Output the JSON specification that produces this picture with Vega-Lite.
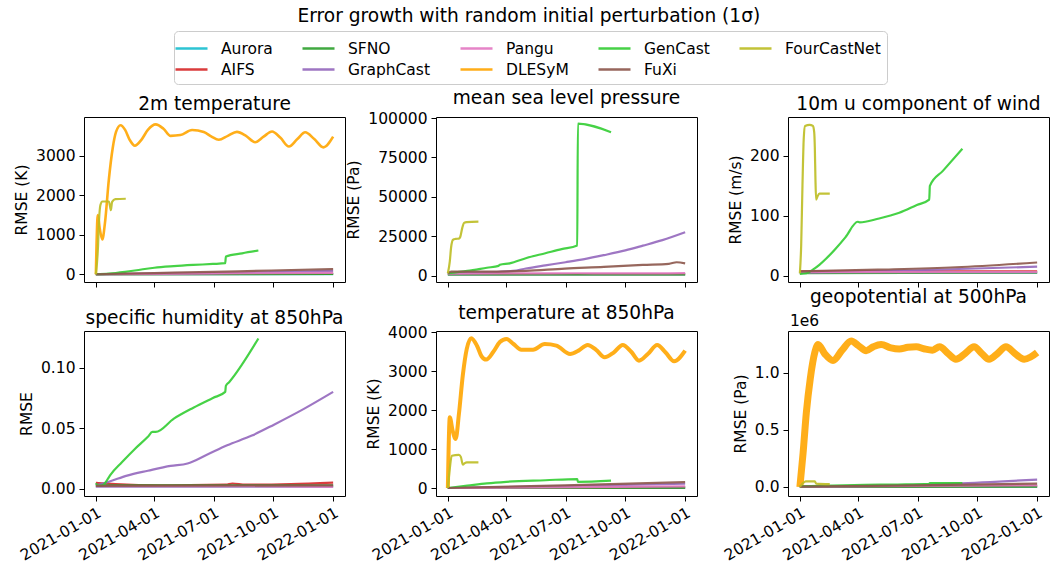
{
"$schema": "https://vega.github.io/schema/vega-lite/v6.json",
"title": {"text": "Error growth with random initial perturbation (1σ)", "anchor": "middle", "offset": 5, "dx": -4},
"padding": {"left": 14, "top": 6, "right": 2, "bottom": 5},
"columns": 3,
"spacing": {"row": 49, "column": 91},
"bounds": "flush",
"resolve": {"scale": {"color": "shared"}, "legend": {"color": "shared"}},
"datasets": {
"t2m": [
{"model":"Aurora","date":"2021-01-01","rmse":0},{"model":"Aurora","date":"2022-01-01","rmse":5},
{"model":"AIFS","date":"2021-01-01","rmse":0},{"model":"AIFS","date":"2022-01-01","rmse":10},
{"model":"SFNO","date":"2021-01-01","rmse":0},{"model":"SFNO","date":"2022-01-01","rmse":8},
{"model":"GraphCast","date":"2021-01-01","rmse":0},{"model":"GraphCast","date":"2021-04-01","rmse":15},{"model":"GraphCast","date":"2021-06-30","rmse":30},{"model":"GraphCast","date":"2021-09-28","rmse":55},{"model":"GraphCast","date":"2022-01-01","rmse":85},
{"model":"Pangu","date":"2021-01-01","rmse":0},{"model":"Pangu","date":"2021-06-30","rmse":20},{"model":"Pangu","date":"2022-01-01","rmse":35},
{"model":"DLESyM","date":"2021-01-01","rmse":0},{"model":"DLESyM","date":"2021-01-04","rmse":1500},{"model":"DLESyM","date":"2021-01-07","rmse":1150},{"model":"DLESyM","date":"2021-01-11","rmse":880},{"model":"DLESyM","date":"2021-01-15","rmse":1300},{"model":"DLESyM","date":"2021-01-21","rmse":2400},{"model":"DLESyM","date":"2021-01-27","rmse":3200},{"model":"DLESyM","date":"2021-02-01","rmse":3600},{"model":"DLESyM","date":"2021-02-08","rmse":3770},{"model":"DLESyM","date":"2021-02-15","rmse":3650},{"model":"DLESyM","date":"2021-02-22","rmse":3400},{"model":"DLESyM","date":"2021-03-02","rmse":3250},{"model":"DLESyM","date":"2021-03-12","rmse":3400},{"model":"DLESyM","date":"2021-03-22","rmse":3650},{"model":"DLESyM","date":"2021-04-03","rmse":3790},{"model":"DLESyM","date":"2021-04-15","rmse":3680},{"model":"DLESyM","date":"2021-04-26","rmse":3500},{"model":"DLESyM","date":"2021-05-11","rmse":3520},{"model":"DLESyM","date":"2021-05-29","rmse":3650},{"model":"DLESyM","date":"2021-06-16","rmse":3600},{"model":"DLESyM","date":"2021-06-28","rmse":3480},{"model":"DLESyM","date":"2021-07-09","rmse":3400},{"model":"DLESyM","date":"2021-07-23","rmse":3500},{"model":"DLESyM","date":"2021-08-06","rmse":3600},{"model":"DLESyM","date":"2021-08-20","rmse":3500},{"model":"DLESyM","date":"2021-09-03","rmse":3340},{"model":"DLESyM","date":"2021-09-16","rmse":3480},{"model":"DLESyM","date":"2021-09-29","rmse":3610},{"model":"DLESyM","date":"2021-10-12","rmse":3450},{"model":"DLESyM","date":"2021-10-25","rmse":3230},{"model":"DLESyM","date":"2021-11-07","rmse":3420},{"model":"DLESyM","date":"2021-11-19","rmse":3590},{"model":"DLESyM","date":"2021-12-03","rmse":3420},{"model":"DLESyM","date":"2021-12-17","rmse":3210},{"model":"DLESyM","date":"2022-01-01","rmse":3480},
{"model":"GenCast","date":"2021-01-01","rmse":0},{"model":"GenCast","date":"2021-01-21","rmse":15},{"model":"GenCast","date":"2021-02-15","rmse":60},{"model":"GenCast","date":"2021-03-12","rmse":120},{"model":"GenCast","date":"2021-04-01","rmse":165},{"model":"GenCast","date":"2021-05-01","rmse":205},{"model":"GenCast","date":"2021-05-31","rmse":235},{"model":"GenCast","date":"2021-06-30","rmse":260},{"model":"GenCast","date":"2021-07-19","rmse":280},{"model":"GenCast","date":"2021-07-20","rmse":450},{"model":"GenCast","date":"2021-08-14","rmse":530},{"model":"GenCast","date":"2021-09-08","rmse":600},
{"model":"FuXi","date":"2021-01-01","rmse":0},{"model":"FuXi","date":"2021-04-01","rmse":30},{"model":"FuXi","date":"2021-06-30","rmse":60},{"model":"FuXi","date":"2021-09-28","rmse":95},{"model":"FuXi","date":"2022-01-01","rmse":130},
{"model":"FourCastNet","date":"2021-01-01","rmse":0},{"model":"FourCastNet","date":"2021-01-04","rmse":600},{"model":"FourCastNet","date":"2021-01-06","rmse":1400},{"model":"FourCastNet","date":"2021-01-08","rmse":1750},{"model":"FourCastNet","date":"2021-01-11","rmse":1840},{"model":"FourCastNet","date":"2021-01-21","rmse":1840},{"model":"FourCastNet","date":"2021-01-23","rmse":1700},{"model":"FourCastNet","date":"2021-01-24","rmse":1620},{"model":"FourCastNet","date":"2021-01-26","rmse":1830},{"model":"FourCastNet","date":"2021-01-31","rmse":1900},{"model":"FourCastNet","date":"2021-02-16","rmse":1910}
],
"msl": [
{"model":"Aurora","date":"2021-01-01","rmse":800},{"model":"Aurora","date":"2022-01-01","rmse":800},
{"model":"AIFS","date":"2021-01-01","rmse":900},{"model":"AIFS","date":"2021-06-30","rmse":1000},{"model":"AIFS","date":"2022-01-01","rmse":1000},
{"model":"SFNO","date":"2021-01-01","rmse":700},{"model":"SFNO","date":"2022-01-01","rmse":700},
{"model":"GraphCast","date":"2021-01-01","rmse":1500},{"model":"GraphCast","date":"2021-03-02","rmse":2000},{"model":"GraphCast","date":"2021-04-11","rmse":3000},{"model":"GraphCast","date":"2021-05-01","rmse":4500},{"model":"GraphCast","date":"2021-05-31","rmse":6500},{"model":"GraphCast","date":"2021-07-01","rmse":8500},{"model":"GraphCast","date":"2021-07-30","rmse":10500},{"model":"GraphCast","date":"2021-08-29","rmse":13000},{"model":"GraphCast","date":"2021-10-01","rmse":16000},{"model":"GraphCast","date":"2021-10-28","rmse":19000},{"model":"GraphCast","date":"2021-11-27","rmse":22500},{"model":"GraphCast","date":"2022-01-01","rmse":27500},
{"model":"Pangu","date":"2021-01-01","rmse":1200},{"model":"Pangu","date":"2021-04-11","rmse":1400},{"model":"Pangu","date":"2021-07-20","rmse":1500},{"model":"Pangu","date":"2021-10-28","rmse":1400},{"model":"Pangu","date":"2022-01-01","rmse":1600},
{"model":"GenCast","date":"2021-01-01","rmse":1500},{"model":"GenCast","date":"2021-01-31","rmse":3000},{"model":"GenCast","date":"2021-03-02","rmse":5000},{"model":"GenCast","date":"2021-03-20","rmse":6200},{"model":"GenCast","date":"2021-03-22","rmse":6900},{"model":"GenCast","date":"2021-04-06","rmse":7800},{"model":"GenCast","date":"2021-05-02","rmse":11200},{"model":"GenCast","date":"2021-05-31","rmse":14200},{"model":"GenCast","date":"2021-06-25","rmse":16800},{"model":"GenCast","date":"2021-07-19","rmse":19100},{"model":"GenCast","date":"2021-07-20","rmse":96500},{"model":"GenCast","date":"2021-09-09","rmse":91000},
{"model":"FuXi","date":"2021-01-01","rmse":1500},{"model":"FuXi","date":"2021-01-06","rmse":2500},{"model":"FuXi","date":"2021-03-02","rmse":2500},{"model":"FuXi","date":"2021-05-01","rmse":3000},{"model":"FuXi","date":"2021-06-30","rmse":4500},{"model":"FuXi","date":"2021-08-29","rmse":5500},{"model":"FuXi","date":"2021-10-28","rmse":6800},{"model":"FuXi","date":"2021-12-07","rmse":7500},{"model":"FuXi","date":"2021-12-19","rmse":8500},{"model":"FuXi","date":"2022-01-01","rmse":7800},
{"model":"FourCastNet","date":"2021-01-01","rmse":1500},{"model":"FourCastNet","date":"2021-01-04","rmse":9000},{"model":"FourCastNet","date":"2021-01-06","rmse":18000},{"model":"FourCastNet","date":"2021-01-09","rmse":22800},{"model":"FourCastNet","date":"2021-01-13","rmse":23300},{"model":"FourCastNet","date":"2021-01-18","rmse":23500},{"model":"FourCastNet","date":"2021-01-20","rmse":24500},{"model":"FourCastNet","date":"2021-01-23","rmse":30000},{"model":"FourCastNet","date":"2021-01-26","rmse":33500},{"model":"FourCastNet","date":"2021-01-30","rmse":34000},{"model":"FourCastNet","date":"2021-02-17","rmse":34300}
],
"u10": [
{"model":"Aurora","date":"2021-01-01","rmse":5},{"model":"Aurora","date":"2022-01-01","rmse":5},
{"model":"AIFS","date":"2021-01-01","rmse":7},{"model":"AIFS","date":"2022-01-01","rmse":7},
{"model":"SFNO","date":"2021-01-01","rmse":4},{"model":"SFNO","date":"2022-01-01","rmse":5},
{"model":"GraphCast","date":"2021-01-01","rmse":5},{"model":"GraphCast","date":"2021-06-30","rmse":9},{"model":"GraphCast","date":"2022-01-01","rmse":15},
{"model":"Pangu","date":"2021-01-01","rmse":6},{"model":"Pangu","date":"2022-01-01","rmse":6},
{"model":"GenCast","date":"2021-01-01","rmse":3},{"model":"GenCast","date":"2021-01-11","rmse":4},{"model":"GenCast","date":"2021-01-21","rmse":10},{"model":"GenCast","date":"2021-01-31","rmse":18},{"model":"GenCast","date":"2021-02-11","rmse":29},{"model":"GenCast","date":"2021-02-25","rmse":45},{"model":"GenCast","date":"2021-03-12","rmse":64},{"model":"GenCast","date":"2021-03-31","rmse":90},{"model":"GenCast","date":"2021-04-03","rmse":89},{"model":"GenCast","date":"2021-05-01","rmse":95},{"model":"GenCast","date":"2021-06-03","rmse":105},{"model":"GenCast","date":"2021-06-30","rmse":118},{"model":"GenCast","date":"2021-07-19","rmse":127},{"model":"GenCast","date":"2021-07-20","rmse":150},{"model":"GenCast","date":"2021-08-09","rmse":175},{"model":"GenCast","date":"2021-09-08","rmse":212},
{"model":"FuXi","date":"2021-01-01","rmse":7},{"model":"FuXi","date":"2021-05-01","rmse":10},{"model":"FuXi","date":"2021-08-29","rmse":14},{"model":"FuXi","date":"2022-01-01","rmse":22},
{"model":"FourCastNet","date":"2021-01-01","rmse":4},{"model":"FourCastNet","date":"2021-01-03","rmse":50},{"model":"FourCastNet","date":"2021-01-05","rmse":150},{"model":"FourCastNet","date":"2021-01-07","rmse":230},{"model":"FourCastNet","date":"2021-01-09","rmse":250},{"model":"FourCastNet","date":"2021-01-16","rmse":252},{"model":"FourCastNet","date":"2021-01-21","rmse":250},{"model":"FourCastNet","date":"2021-01-23","rmse":240},{"model":"FourCastNet","date":"2021-01-24","rmse":215},{"model":"FourCastNet","date":"2021-01-25","rmse":160},{"model":"FourCastNet","date":"2021-01-26","rmse":127},{"model":"FourCastNet","date":"2021-01-28","rmse":132},{"model":"FourCastNet","date":"2021-01-31","rmse":137},{"model":"FourCastNet","date":"2021-02-16","rmse":137}
],
"q850": [
{"model":"Aurora","date":"2021-01-01","rmse":0.002},{"model":"Aurora","date":"2022-01-01","rmse":0.002},
{"model":"AIFS","date":"2021-01-01","rmse":0.005},{"model":"AIFS","date":"2021-01-31","rmse":0.004},{"model":"AIFS","date":"2021-04-11","rmse":0.003},{"model":"AIFS","date":"2021-07-20","rmse":0.0035},{"model":"AIFS","date":"2021-07-30","rmse":0.0045},{"model":"AIFS","date":"2021-08-19","rmse":0.0035},{"model":"AIFS","date":"2021-10-28","rmse":0.004},{"model":"AIFS","date":"2022-01-01","rmse":0.0052},
{"model":"SFNO","date":"2021-01-01","rmse":0.003},{"model":"SFNO","date":"2022-01-01","rmse":0.003},
{"model":"GraphCast","date":"2021-01-01","rmse":0.003},{"model":"GraphCast","date":"2021-01-21","rmse":0.006},{"model":"GraphCast","date":"2021-02-18","rmse":0.011},{"model":"GraphCast","date":"2021-03-22","rmse":0.015},{"model":"GraphCast","date":"2021-04-26","rmse":0.019},{"model":"GraphCast","date":"2021-05-22","rmse":0.021},{"model":"GraphCast","date":"2021-06-20","rmse":0.028},{"model":"GraphCast","date":"2021-07-22","rmse":0.036},{"model":"GraphCast","date":"2021-08-29","rmse":0.044},{"model":"GraphCast","date":"2021-10-02","rmse":0.053},{"model":"GraphCast","date":"2021-11-17","rmse":0.066},{"model":"GraphCast","date":"2022-01-01","rmse":0.080},
{"model":"Pangu","date":"2021-01-01","rmse":0.002},{"model":"Pangu","date":"2022-01-01","rmse":0.0018},
{"model":"GenCast","date":"2021-01-01","rmse":0.0047},{"model":"GenCast","date":"2021-01-04","rmse":0.003},{"model":"GenCast","date":"2021-01-09","rmse":0.0028},{"model":"GenCast","date":"2021-01-14","rmse":0.004},{"model":"GenCast","date":"2021-01-19","rmse":0.008},{"model":"GenCast","date":"2021-01-24","rmse":0.012},{"model":"GenCast","date":"2021-02-10","rmse":0.022},{"model":"GenCast","date":"2021-03-02","rmse":0.033},{"model":"GenCast","date":"2021-03-22","rmse":0.043},{"model":"GenCast","date":"2021-03-29","rmse":0.047},{"model":"GenCast","date":"2021-04-03","rmse":0.047},{"model":"GenCast","date":"2021-05-01","rmse":0.058},{"model":"GenCast","date":"2021-05-31","rmse":0.067},{"model":"GenCast","date":"2021-06-30","rmse":0.075},{"model":"GenCast","date":"2021-07-19","rmse":0.080},{"model":"GenCast","date":"2021-07-20","rmse":0.085},{"model":"GenCast","date":"2021-07-25","rmse":0.088},{"model":"GenCast","date":"2021-09-08","rmse":0.124},
{"model":"FuXi","date":"2021-01-01","rmse":0.0025},{"model":"FuXi","date":"2022-01-01","rmse":0.003}
],
"t850": [
{"model":"Aurora","date":"2021-01-01","rmse":0},{"model":"Aurora","date":"2022-01-01","rmse":5},
{"model":"AIFS","date":"2021-01-01","rmse":0},{"model":"AIFS","date":"2022-01-01","rmse":15},
{"model":"SFNO","date":"2021-01-01","rmse":0},{"model":"SFNO","date":"2022-01-01","rmse":8},
{"model":"GraphCast","date":"2021-01-01","rmse":0},{"model":"GraphCast","date":"2021-06-30","rmse":50},{"model":"GraphCast","date":"2022-01-01","rmse":110},
{"model":"Pangu","date":"2021-01-01","rmse":0},{"model":"Pangu","date":"2022-01-01","rmse":40},
{"model":"DLESyM","date":"2021-01-01","rmse":0},{"model":"DLESyM","date":"2021-01-04","rmse":1820},{"model":"DLESyM","date":"2021-01-08","rmse":1500},{"model":"DLESyM","date":"2021-01-13","rmse":1260},{"model":"DLESyM","date":"2021-01-18","rmse":1900},{"model":"DLESyM","date":"2021-01-24","rmse":2900},{"model":"DLESyM","date":"2021-01-30","rmse":3570},{"model":"DLESyM","date":"2021-02-06","rmse":3850},{"model":"DLESyM","date":"2021-02-15","rmse":3650},{"model":"DLESyM","date":"2021-02-22","rmse":3380},{"model":"DLESyM","date":"2021-03-01","rmse":3300},{"model":"DLESyM","date":"2021-03-12","rmse":3500},{"model":"DLESyM","date":"2021-03-22","rmse":3750},{"model":"DLESyM","date":"2021-04-01","rmse":3830},{"model":"DLESyM","date":"2021-04-12","rmse":3700},{"model":"DLESyM","date":"2021-04-24","rmse":3555},{"model":"DLESyM","date":"2021-05-12","rmse":3555},{"model":"DLESyM","date":"2021-05-30","rmse":3700},{"model":"DLESyM","date":"2021-06-17","rmse":3660},{"model":"DLESyM","date":"2021-07-08","rmse":3445},{"model":"DLESyM","date":"2021-07-21","rmse":3530},{"model":"DLESyM","date":"2021-08-04","rmse":3676},{"model":"DLESyM","date":"2021-08-17","rmse":3550},{"model":"DLESyM","date":"2021-08-30","rmse":3360},{"model":"DLESyM","date":"2021-09-13","rmse":3480},{"model":"DLESyM","date":"2021-09-27","rmse":3676},{"model":"DLESyM","date":"2021-10-10","rmse":3500},{"model":"DLESyM","date":"2021-10-22","rmse":3272},{"model":"DLESyM","date":"2021-11-05","rmse":3450},{"model":"DLESyM","date":"2021-11-19","rmse":3676},{"model":"DLESyM","date":"2021-12-02","rmse":3480},{"model":"DLESyM","date":"2021-12-15","rmse":3257},{"model":"DLESyM","date":"2022-01-01","rmse":3530},
{"model":"GenCast","date":"2021-01-01","rmse":0},{"model":"GenCast","date":"2021-01-31","rmse":60},{"model":"GenCast","date":"2021-03-02","rmse":120},{"model":"GenCast","date":"2021-04-01","rmse":160},{"model":"GenCast","date":"2021-05-31","rmse":200},{"model":"GenCast","date":"2021-07-19","rmse":230},{"model":"GenCast","date":"2021-07-20","rmse":160},{"model":"GenCast","date":"2021-09-09","rmse":190},
{"model":"FuXi","date":"2021-01-01","rmse":0},{"model":"FuXi","date":"2021-06-30","rmse":70},{"model":"FuXi","date":"2022-01-01","rmse":150},
{"model":"FourCastNet","date":"2021-01-01","rmse":0},{"model":"FourCastNet","date":"2021-01-04","rmse":500},{"model":"FourCastNet","date":"2021-01-07","rmse":830},{"model":"FourCastNet","date":"2021-01-18","rmse":850},{"model":"FourCastNet","date":"2021-01-21","rmse":800},{"model":"FourCastNet","date":"2021-01-24","rmse":600},{"model":"FourCastNet","date":"2021-01-27","rmse":640},{"model":"FourCastNet","date":"2021-01-30","rmse":660},{"model":"FourCastNet","date":"2021-02-17","rmse":660}
],
"z500": [
{"model":"Aurora","date":"2021-01-01","rmse":2000},{"model":"Aurora","date":"2022-01-01","rmse":3000},
{"model":"AIFS","date":"2021-01-01","rmse":3000},{"model":"AIFS","date":"2022-01-01","rmse":8000},
{"model":"SFNO","date":"2021-01-01","rmse":2000},{"model":"SFNO","date":"2022-01-01","rmse":4000},
{"model":"GraphCast","date":"2021-01-01","rmse":2000},{"model":"GraphCast","date":"2021-05-01","rmse":10000},{"model":"GraphCast","date":"2021-08-29","rmse":30000},{"model":"GraphCast","date":"2022-01-01","rmse":65000},
{"model":"Pangu","date":"2021-01-01","rmse":5000},{"model":"Pangu","date":"2022-01-01","rmse":15000},
{"model":"DLESyM","date":"2021-01-01","rmse":0},{"model":"DLESyM","date":"2021-01-06","rmse":300000},{"model":"DLESyM","date":"2021-01-11","rmse":655000},{"model":"DLESyM","date":"2021-01-17","rmse":950000},{"model":"DLESyM","date":"2021-01-24","rmse":1180000},{"model":"DLESyM","date":"2021-01-29","rmse":1250000},{"model":"DLESyM","date":"2021-02-08","rmse":1170000},{"model":"DLESyM","date":"2021-02-21","rmse":1110000},{"model":"DLESyM","date":"2021-03-07","rmse":1200000},{"model":"DLESyM","date":"2021-03-21","rmse":1280000},{"model":"DLESyM","date":"2021-04-01","rmse":1240000},{"model":"DLESyM","date":"2021-04-13","rmse":1195000},{"model":"DLESyM","date":"2021-04-24","rmse":1230000},{"model":"DLESyM","date":"2021-05-06","rmse":1250000},{"model":"DLESyM","date":"2021-05-21","rmse":1220000},{"model":"DLESyM","date":"2021-06-03","rmse":1210000},{"model":"DLESyM","date":"2021-06-16","rmse":1225000},{"model":"DLESyM","date":"2021-06-29","rmse":1230000},{"model":"DLESyM","date":"2021-07-12","rmse":1210000},{"model":"DLESyM","date":"2021-07-24","rmse":1200000},{"model":"DLESyM","date":"2021-08-04","rmse":1230000},{"model":"DLESyM","date":"2021-08-17","rmse":1170000},{"model":"DLESyM","date":"2021-08-29","rmse":1120000},{"model":"DLESyM","date":"2021-09-12","rmse":1170000},{"model":"DLESyM","date":"2021-09-26","rmse":1230000},{"model":"DLESyM","date":"2021-10-08","rmse":1170000},{"model":"DLESyM","date":"2021-10-19","rmse":1120000},{"model":"DLESyM","date":"2021-11-01","rmse":1170000},{"model":"DLESyM","date":"2021-11-14","rmse":1230000},{"model":"DLESyM","date":"2021-11-28","rmse":1170000},{"model":"DLESyM","date":"2021-12-12","rmse":1120000},{"model":"DLESyM","date":"2021-12-22","rmse":1140000},{"model":"DLESyM","date":"2022-01-01","rmse":1180000},
{"model":"GenCast","date":"2021-01-01","rmse":5000},{"model":"GenCast","date":"2021-02-20","rmse":12000},{"model":"GenCast","date":"2021-04-11","rmse":18000},{"model":"GenCast","date":"2021-05-31","rmse":22000},{"model":"GenCast","date":"2021-07-19","rmse":28000},{"model":"GenCast","date":"2021-07-20","rmse":35000},{"model":"GenCast","date":"2021-09-08","rmse":35000},
{"model":"FuXi","date":"2021-01-01","rmse":3000},{"model":"FuXi","date":"2021-06-30","rmse":15000},{"model":"FuXi","date":"2022-01-01","rmse":30000},
{"model":"FourCastNet","date":"2021-01-01","rmse":0},{"model":"FourCastNet","date":"2021-01-05","rmse":30000},{"model":"FourCastNet","date":"2021-01-10","rmse":50000},{"model":"FourCastNet","date":"2021-01-24","rmse":50000},{"model":"FourCastNet","date":"2021-01-26","rmse":30000},{"model":"FourCastNet","date":"2021-02-16","rmse":25000}
]
},
"concat": [
{
"width": 261, "height": 165,
"title": {"text": "2m temperature"},
"data": {"name": "t2m"},
"mark": {"type": "line", "interpolate": "monotone", "opacity": 0.9},
"encoding": {
"x": {"field": "date", "type": "temporal", "scale": {"domain": [{"year":2020,"month":12,"date":13,"hours":18},{"year":2022,"month":1,"date":19,"hours":6}]}, "axis": {"title": null, "labels": false, "values": [{"year":2021,"month":1,"date":1},{"year":2021,"month":4,"date":1},{"year":2021,"month":7,"date":1},{"year":2021,"month":10,"date":1},{"year":2022,"month":1,"date":1}]}},
"y": {"field": "rmse", "type": "quantitative", "scale": {"domain": [-196, 3977], "nice": false, "zero": false}, "axis": {"title": "RMSE (K)", "values": [0,1000,2000,3000], "format": "d"}},
"color": {"field": "model", "type": "nominal", "scale": {"domain": ["Aurora","AIFS","SFNO","GraphCast","Pangu","DLESyM","GenCast","FuXi","FourCastNet"], "range": ["#17becf","#d62728","#2ca02c","#9467bd","#e377c2","#ffa500","#32cd32","#8c564b","#bcbd22"]}, "legend": {"title": null, "orient": "none", "legendX": 90, "legendY": -86, "columns": 5, "symbolType": "M-1.6,0L1.6,0", "symbolSize": 400, "symbolStrokeWidth": 2.3, "labelFontSize": 15.5, "labelOffset": 18, "columnPadding": 24, "rowPadding": 1, "padding": 6, "strokeColor": "#cccccc", "fillColor": "#ffffff", "cornerRadius": 4, "labelColor": "#000000"}},
"strokeWidth": {"condition": {"test": "datum.model === 'DLESyM'", "value": 2.6}, "value": 2.2}
}
},
{
"width": 261, "height": 165,
"title": {"text": "mean sea level pressure"},
"data": {"name": "msl"},
"mark": {"type": "line", "interpolate": "monotone", "opacity": 0.9},
"encoding": {
"x": {"field": "date", "type": "temporal", "scale": {"domain": [{"year":2020,"month":12,"date":13,"hours":18},{"year":2022,"month":1,"date":19,"hours":6}]}, "axis": {"title": null, "labels": false, "values": [{"year":2021,"month":1,"date":1},{"year":2021,"month":4,"date":1},{"year":2021,"month":7,"date":1},{"year":2021,"month":10,"date":1},{"year":2022,"month":1,"date":1}]}},
"y": {"field": "rmse", "type": "quantitative", "scale": {"domain": [-4046, 100642], "nice": false, "zero": false}, "axis": {"title": "RMSE (Pa)", "values": [0,25000,50000,75000,100000], "format": "d"}},
"color": {"field": "model", "type": "nominal", "scale": {"domain": ["Aurora","AIFS","SFNO","GraphCast","Pangu","DLESyM","GenCast","FuXi","FourCastNet"], "range": ["#17becf","#d62728","#2ca02c","#9467bd","#e377c2","#ffa500","#32cd32","#8c564b","#bcbd22"]}},
"strokeWidth": {"value": 2.2}
}
},
{
"width": 261, "height": 165,
"title": {"text": "10m u component of wind"},
"data": {"name": "u10"},
"mark": {"type": "line", "interpolate": "monotone", "opacity": 0.9},
"encoding": {
"x": {"field": "date", "type": "temporal", "scale": {"domain": [{"year":2020,"month":12,"date":13,"hours":18},{"year":2022,"month":1,"date":19,"hours":6}]}, "axis": {"title": null, "labels": false, "values": [{"year":2021,"month":1,"date":1},{"year":2021,"month":4,"date":1},{"year":2021,"month":7,"date":1},{"year":2021,"month":10,"date":1},{"year":2022,"month":1,"date":1}]}},
"y": {"field": "rmse", "type": "quantitative", "scale": {"domain": [-10.6, 265], "nice": false, "zero": false}, "axis": {"title": "RMSE (m/s)", "values": [0,100,200], "format": "d"}},
"color": {"field": "model", "type": "nominal", "scale": {"domain": ["Aurora","AIFS","SFNO","GraphCast","Pangu","DLESyM","GenCast","FuXi","FourCastNet"], "range": ["#17becf","#d62728","#2ca02c","#9467bd","#e377c2","#ffa500","#32cd32","#8c564b","#bcbd22"]}},
"strokeWidth": {"value": 2.2}
}
},
{
"width": 261, "height": 165,
"title": {"text": "specific humidity at 850hPa"},
"data": {"name": "q850"},
"mark": {"type": "line", "interpolate": "monotone", "opacity": 0.9},
"encoding": {
"x": {"field": "date", "type": "temporal", "scale": {"domain": [{"year":2020,"month":12,"date":13,"hours":18},{"year":2022,"month":1,"date":19,"hours":6}]}, "axis": {"title": null, "format": "%Y-%m-%d", "labelAngle": -30, "labelAlign": "right", "labelBaseline": "top", "labelOverlap": false, "values": [{"year":2021,"month":1,"date":1},{"year":2021,"month":4,"date":1},{"year":2021,"month":7,"date":1},{"year":2021,"month":10,"date":1},{"year":2022,"month":1,"date":1}]}},
"y": {"field": "rmse", "type": "quantitative", "scale": {"domain": [-0.0058, 0.1302], "nice": false, "zero": false}, "axis": {"title": "RMSE", "values": [0,0.05,0.1], "format": ".2f"}},
"color": {"field": "model", "type": "nominal", "scale": {"domain": ["Aurora","AIFS","SFNO","GraphCast","Pangu","DLESyM","GenCast","FuXi","FourCastNet"], "range": ["#17becf","#d62728","#2ca02c","#9467bd","#e377c2","#ffa500","#32cd32","#8c564b","#bcbd22"]}},
"strokeWidth": {"value": 2.2}
}
},
{
"width": 261, "height": 165,
"title": {"text": "temperature at 850hPa"},
"data": {"name": "t850"},
"mark": {"type": "line", "interpolate": "monotone", "opacity": 0.9},
"encoding": {
"x": {"field": "date", "type": "temporal", "scale": {"domain": [{"year":2020,"month":12,"date":13,"hours":18},{"year":2022,"month":1,"date":19,"hours":6}]}, "axis": {"title": null, "format": "%Y-%m-%d", "labelAngle": -30, "labelAlign": "right", "labelBaseline": "top", "labelOverlap": false, "values": [{"year":2021,"month":1,"date":1},{"year":2021,"month":4,"date":1},{"year":2021,"month":7,"date":1},{"year":2021,"month":10,"date":1},{"year":2022,"month":1,"date":1}]}},
"y": {"field": "rmse", "type": "quantitative", "scale": {"domain": [-205, 4034], "nice": false, "zero": false}, "axis": {"title": "RMSE (K)", "values": [0,1000,2000,3000,4000], "format": "d"}},
"color": {"field": "model", "type": "nominal", "scale": {"domain": ["Aurora","AIFS","SFNO","GraphCast","Pangu","DLESyM","GenCast","FuXi","FourCastNet"], "range": ["#17becf","#d62728","#2ca02c","#9467bd","#e377c2","#ffa500","#32cd32","#8c564b","#bcbd22"]}},
"strokeWidth": {"condition": {"test": "datum.model === 'DLESyM'", "value": 4}, "value": 2.2}
}
},
{
"width": 261, "height": 165,
"title": {"text": "geopotential at 500hPa", "offset": 6},
"data": {"name": "z500"},
"layer": [
{
"mark": {"type": "line", "interpolate": "monotone", "opacity": 0.9},
"encoding": {
"x": {"field": "date", "type": "temporal", "scale": {"domain": [{"year":2020,"month":12,"date":13,"hours":18},{"year":2022,"month":1,"date":19,"hours":6}]}, "axis": {"title": null, "format": "%Y-%m-%d", "labelAngle": -30, "labelAlign": "right", "labelBaseline": "top", "labelOverlap": false, "values": [{"year":2021,"month":1,"date":1},{"year":2021,"month":4,"date":1},{"year":2021,"month":7,"date":1},{"year":2021,"month":10,"date":1},{"year":2022,"month":1,"date":1}]}},
"y": {"field": "rmse", "type": "quantitative", "scale": {"domain": [-79000, 1368000], "nice": false, "zero": false}, "axis": {"title": "RMSE (Pa)", "values": [0,500000,1000000], "labelExpr": "format(datum.value / 1000000, '.1f')"}},
"color": {"field": "model", "type": "nominal", "scale": {"domain": ["Aurora","AIFS","SFNO","GraphCast","Pangu","DLESyM","GenCast","FuXi","FourCastNet"], "range": ["#17becf","#d62728","#2ca02c","#9467bd","#e377c2","#ffa500","#32cd32","#8c564b","#bcbd22"]}},
"strokeWidth": {"condition": {"test": "datum.model === 'DLESyM'", "value": 7}, "value": 2.2}
}
},
{
"data": {"values": [{}]},
"mark": {"type": "rule", "strokeOpacity": 0},
"encoding": {
"y": {"datum": 0, "type": "quantitative", "axis": {"orient": "right", "title": "1e6", "titleAngle": 0, "titleX": -245, "titleY": -3, "titleAlign": "center", "titleBaseline": "bottom", "labels": false, "ticks": false, "domain": false}}
}
}
],
"resolve": {"axis": {"y": "independent"}}
}
],
"config": {
"font": "DejaVu Sans",
"background": "#ffffff",
"view": {"stroke": "#000000", "strokeWidth": 1},
"axis": {"domain": false, "grid": false, "labelFont": "DejaVu Sans", "labelFontSize": 15.5, "labelColor": "#000000", "tickColor": "#000000", "tickSize": 5, "labelPadding": 4, "titleFont": "DejaVu Sans", "titleFontSize": 15.5, "titleFontWeight": "normal", "titleColor": "#000000", "titlePadding": 6},
"title": {"font": "DejaVu Sans", "fontSize": 18.6, "fontWeight": "normal", "color": "#000000", "offset": 3},
"legend": {"labelFont": "DejaVu Sans"}
}
}
